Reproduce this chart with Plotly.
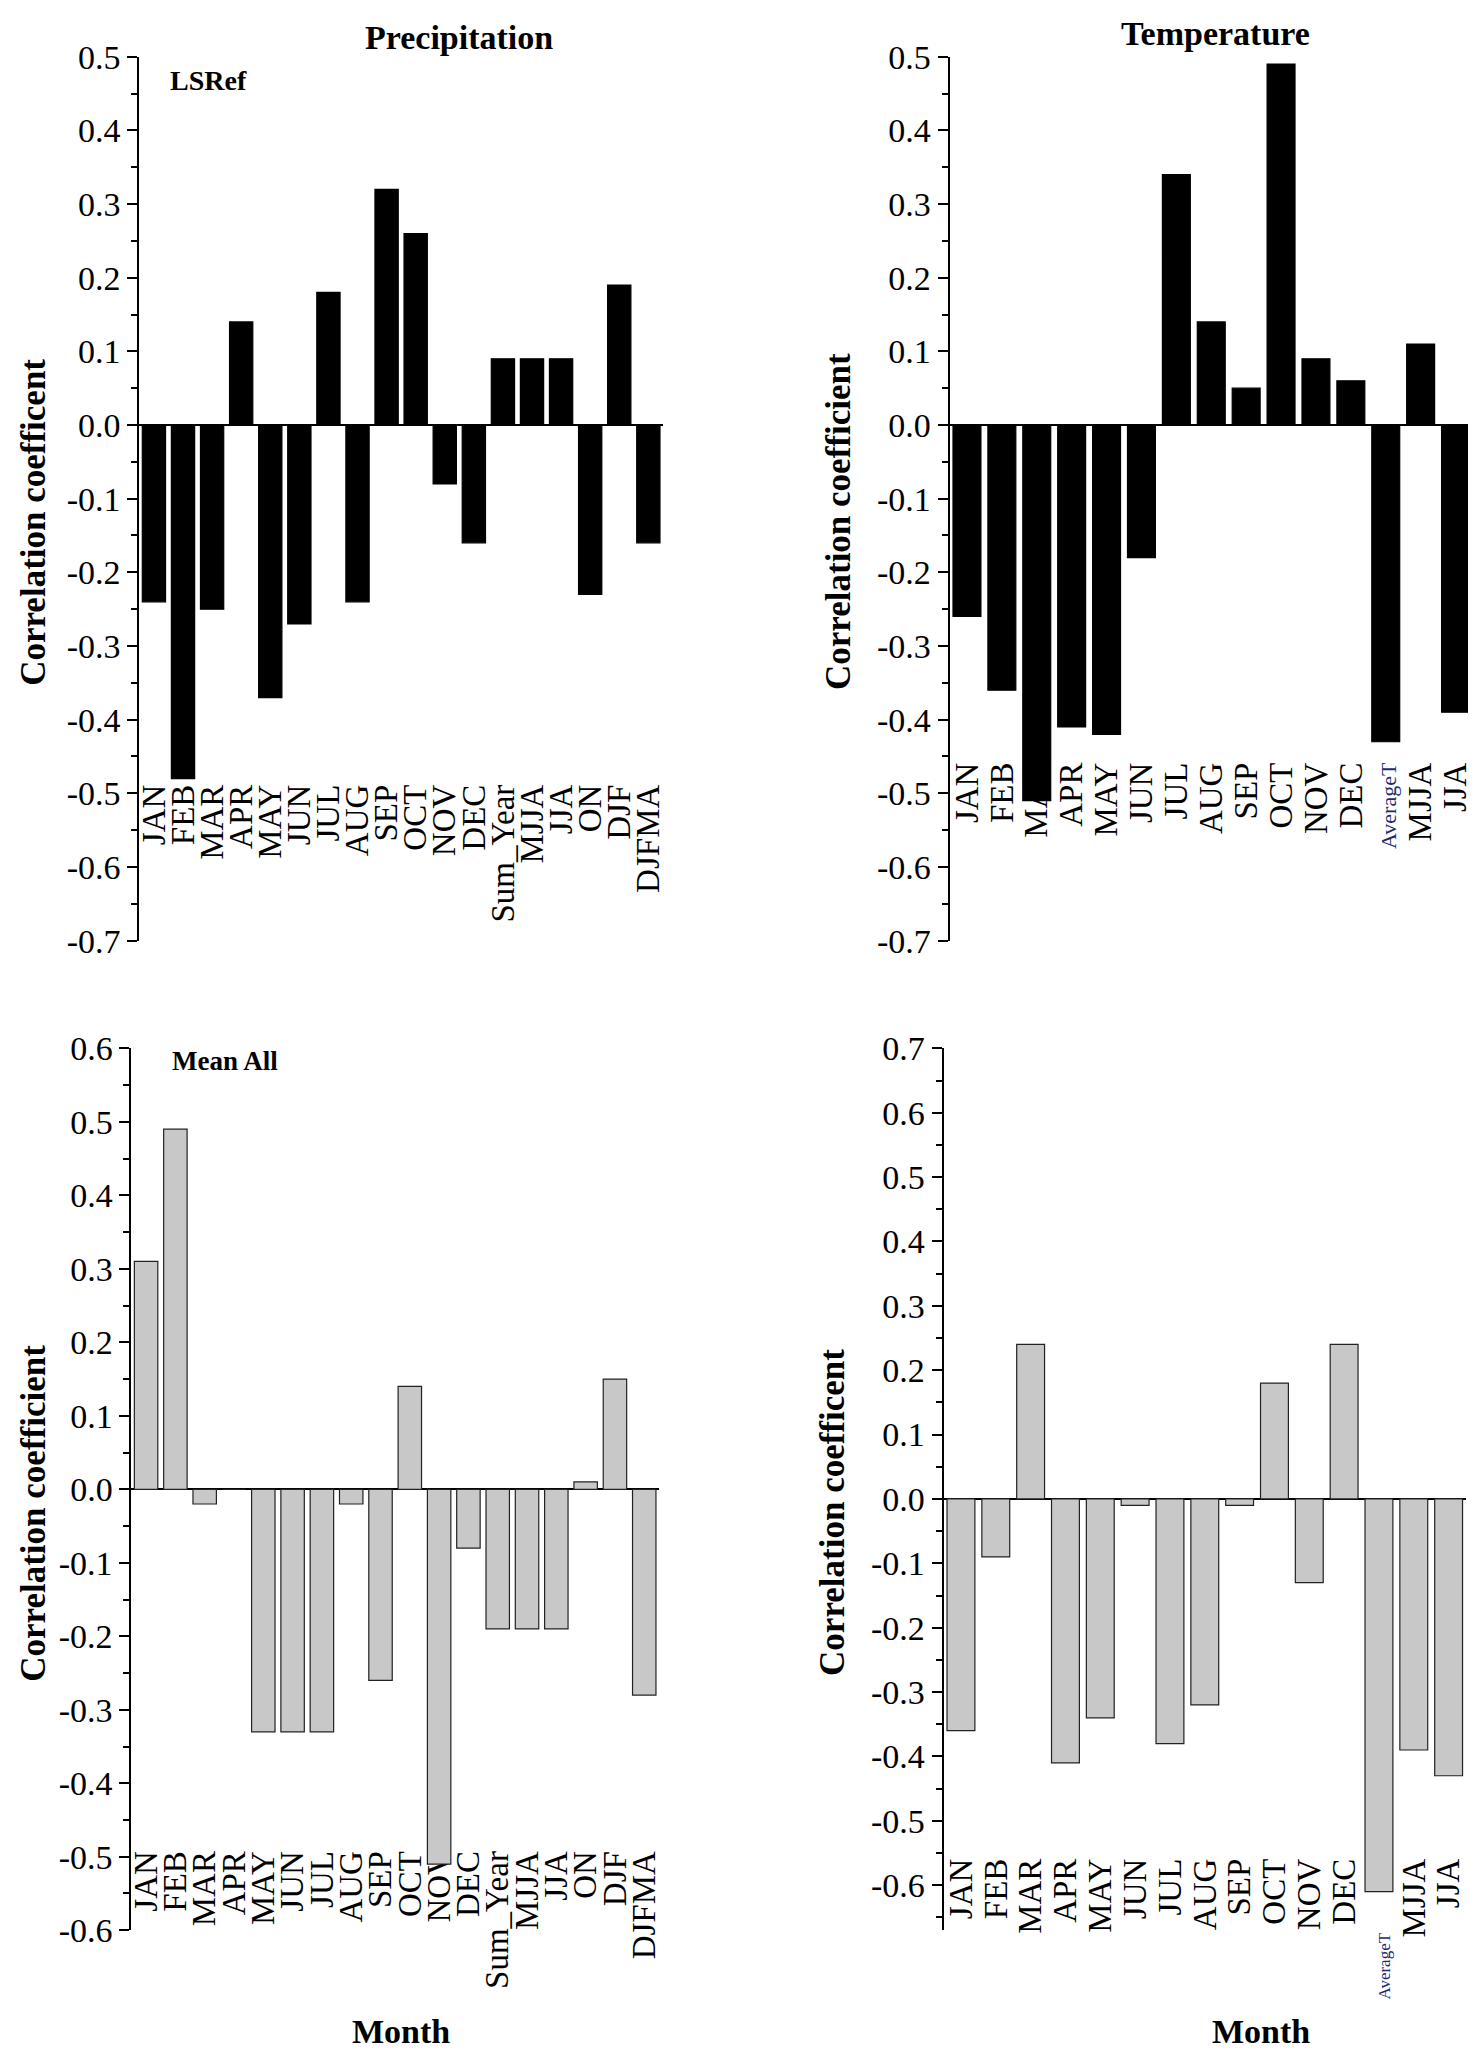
import plotly.graph_objects as go

# categories
precip_months = ["JAN", "FEB", "MAR", "APR", "MAY", "JUN", "JUL", "AUG", "SEP", "OCT",
                 "NOV", "DEC", "Sum_Year", "MJJA", "JJA", "ON", "DJF", "DJFMA"]
temp_months = ["JAN", "FEB", "MAR", "APR", "MAY", "JUN", "JUL", "AUG", "SEP", "OCT",
               "NOV", "DEC", "AverageT", "MJJA", "JJA"]

# correlation values
precip_lsref = [-0.24, -0.48, -0.25, 0.14, -0.37, -0.27, 0.18, -0.24, 0.32, 0.26,
                -0.08, -0.16, 0.09, 0.09, 0.09, -0.23, 0.19, -0.16]
temp_lsref = [-0.26, -0.36, -0.51, -0.41, -0.42, -0.18, 0.34, 0.14, 0.05, 0.49,
              0.09, 0.06, -0.43, 0.11, -0.39]
precip_mean = [0.31, 0.49, -0.02, 0.0, -0.33, -0.33, -0.33, -0.02, -0.26, 0.14,
               -0.51, -0.08, -0.19, -0.19, -0.19, 0.01, 0.15, -0.28]
temp_mean = [-0.36, -0.09, 0.24, -0.41, -0.34, -0.01, -0.38, -0.32, -0.01, 0.18,
             -0.13, 0.24, -0.61, -0.39, -0.43]

# the page body adds an 8px margin, so the figure is drawn 8px in from the corner
OFF = 8
W, H = 1476 - OFF, 2072 - OFF
SERIF = "Liberation Serif"


def px(x):
    return (x - OFF) / W


def py(y):
    return 1 - (y - OFF) / H


def label_text(cats, small, pad):
    out = []
    for c in cats:
        if c == "AverageT":
            out.append(f"<span style='font-size:{small}px;color:#1c2c6b'>{c}</span>" + "\u00a0" * pad)
        else:
            out.append(c)
    return out


# panel: cats, values, xdomain px, ydomain px, yrange, label level, fill, edge, small size, pad
panels = [
    (precip_months, precip_lsref, (136, 662), (39.3, 939.3), (-0.7, 0.5), -0.478, "black", "black", 22, 0),
    (temp_months, temp_lsref, (950, 1476), (39.3, 939.3), (-0.7, 0.5), -0.448, "black", "black", 22, 0),
    (precip_months, precip_mean, (128, 658), (1049, 1947), (-0.6, 0.6), -0.482, "#c8c8c8", "#222222", 20, 0),
    (temp_months, temp_mean, (944, 1469), (1049, 1947), (-0.67, 0.7), -0.547, "#c8c8c8", "#222222", 17, 9),
]

fig = go.Figure()
layout = {}
for i, (cats, vals, xd, yd, yr, lvl, fill, edge, small, pad) in enumerate(panels):
    n = i + 1
    xname = "x" if n == 1 else f"x{n}"
    yname = "y" if n == 1 else f"y{n}"
    fig.add_trace(go.Bar(
        x=cats, y=vals, xaxis=xname, yaxis=yname,
        marker=dict(color=fill, line=dict(color=edge, width=1.2)),
        width=0.8, showlegend=False,
    ))
    y0, y1 = py(yd[1]), py(yd[0])
    lab_pos = y0 + (lvl - yr[0]) / (yr[1] - yr[0]) * (y1 - y0)
    layout["xaxis" if n == 1 else f"xaxis{n}"] = dict(
        domain=[px(xd[0]), px(xd[1])],
        anchor="free", position=lab_pos,
        range=[-0.5, len(cats) - 0.5],
        type="category",
        tickmode="array", tickvals=cats, ticktext=label_text(cats, small, pad),
        tickangle=-90, ticks="", showline=False, showgrid=False, zeroline=False,
        tickfont=dict(family=SERIF, size=33, color="black"),
        layer="below traces",
    )
    tv = [round(-0.7 + 0.1 * k, 1) for k in range(15)]
    tv = [v for v in tv if yr[0] - 1e-9 <= v <= yr[1] + 1e-9]
    layout["yaxis" if n == 1 else f"yaxis{n}"] = dict(
        domain=[y0, y1], anchor=xname, range=list(yr),
        tickmode="array", tickvals=tv, ticktext=[f"{v:.1f}" for v in tv],
        ticks="outside", ticklen=10, tickwidth=2, tickcolor="black",
        minor=dict(dtick=0.05, tick0=0, ticks="outside", ticklen=6, tickwidth=2, tickcolor="black"),
        showline=True, linewidth=2, linecolor="black",
        showgrid=False, zeroline=True, zerolinecolor="black", zerolinewidth=2,
        tickfont=dict(family=SERIF, size=34, color="black"),
    )

ann = []


def add_text(text, x, y, size, bold=True, angle=0):
    ann.append(dict(
        text=text, x=px(x), y=py(y), xref="paper", yref="paper",
        showarrow=False, xanchor="center", yanchor="middle", textangle=angle,
        font=dict(family=SERIF, size=size, color="black", weight="bold" if bold else "normal"),
    ))


add_text("Precipitation", 457, 20, 34)
add_text("Temperature", 1217, 16, 34)
add_text("LSRef", 205, 63, 28)
add_text("Mean All", 222, 1062, 27)
add_text("Correlation coefficent", 30, 513, 35, angle=-90)
add_text("Correlation coefficient", 839, 513, 35, angle=-90)
add_text("Correlation coefficient", 30, 1522, 35, angle=-90)
add_text("Correlation coefficent", 833, 1522, 35, angle=-90)
add_text("Month", 399, 2050, 34)
add_text("Month", 1263, 2050, 34)

fig.update_layout(
    width=W, height=H,
    margin=dict(l=0, r=0, t=0, b=0),
    plot_bgcolor="white", paper_bgcolor="white",
    bargap=0.2,
    annotations=ann,
    **layout,
)

fig.write_html("out.html")
